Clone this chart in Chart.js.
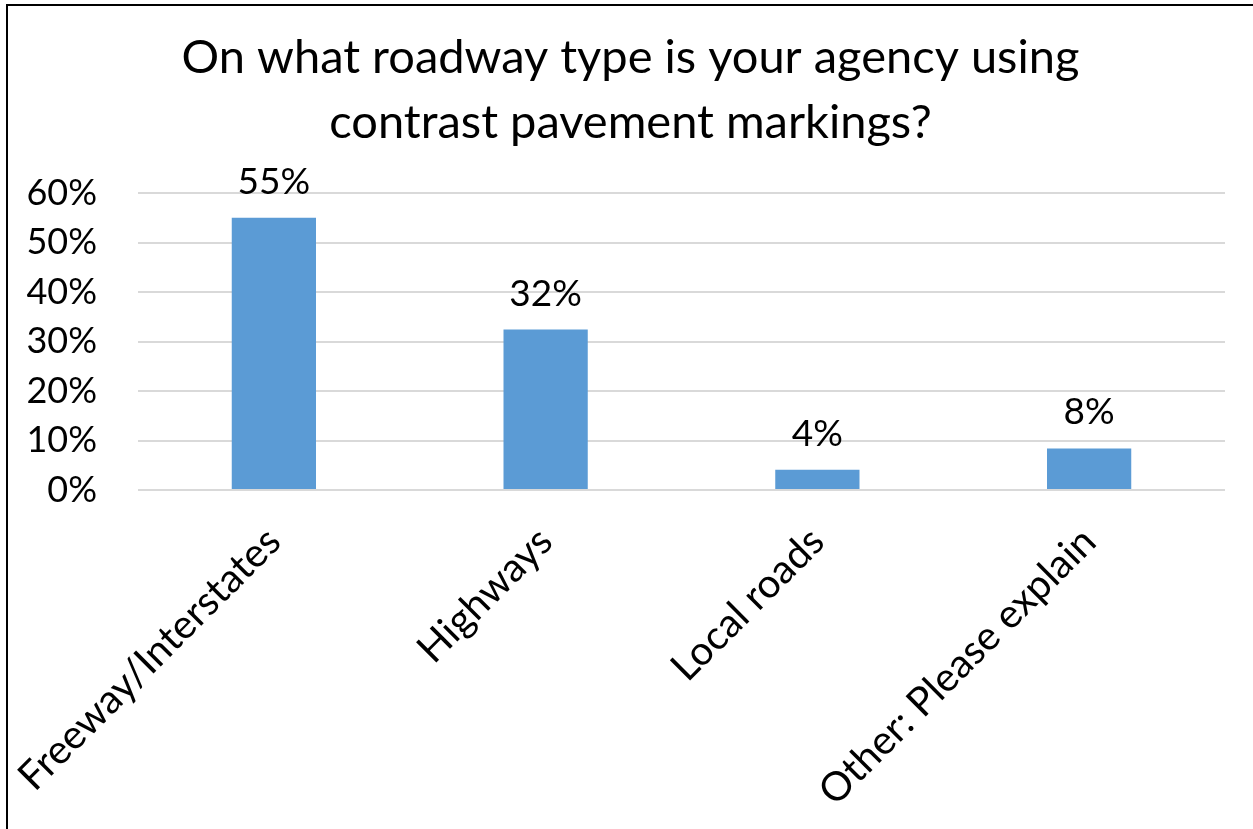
<!DOCTYPE html>
<html>
<head>
<meta charset="utf-8">
<script src="https://cdn.jsdelivr.net/npm/chart.js@4/dist/chart.umd.min.js"></script>
<style>
  html, body { margin: 0; padding: 0; background: #fff; overflow: hidden; }
  #frame { position: absolute; left: 6px; top: 4px; width: 1400px; height: 1000px;
           border-left: 2px solid #000; border-top: 2px solid #000; }
  #box { position: absolute; left: 0; top: 0; width: 1245px; height: 823px; }
</style>
</head>
<body>
<div id="frame"><div id="box"><canvas id="c"></canvas></div></div>
<script>
const titleLines = ["On what roadway type is your agency using", "contrast pavement markings?"];
const categories = ["Freeway/Interstates", "Highways", "Local roads", "Other: Please explain"];
const values = [55, 32.4, 4.1, 8.4];
const yTicks = [0, 10, 20, 30, 40, 50, 60];

const FONT = "Lato";

const dataLabels = {
  id: 'dataLabels',
  afterDatasetsDraw(chart) {
    const ctx = chart.ctx;
    const meta = chart.getDatasetMeta(0);
    ctx.save();
    ctx.font = `37px ${FONT}`;
    ctx.fillStyle = '#000';
    ctx.textAlign = 'center';
    ctx.textBaseline = 'alphabetic';
    meta.data.forEach((bar, i) => {
      ctx.fillText(Math.round(values[i]) + '%', bar.x, bar.y - 24);
    });
    ctx.restore();
  }
};

new Chart(document.getElementById('c'), {
  type: 'bar',
  data: {
    labels: categories,
    datasets: [{
      data: values,
      backgroundColor: '#5b9bd5',
      borderWidth: 0,
      barPercentage: 0.31,
      categoryPercentage: 1
    }]
  },
  options: {
    responsive: true,
    maintainAspectRatio: false,
    animation: false,
    layout: { padding: 0 },
    plugins: {
      legend: { display: false },
      tooltip: { enabled: false },
      title: {
        display: true,
        text: titleLines,
        color: '#000',
        font: { family: FONT, size: 47, weight: 'normal', lineHeight: 65 / 47 },
        padding: { top: 19, bottom: 38 }
      }
    },
    scales: {
      x: {
        grid: { display: false, drawTicks: false },
        border: { display: false },
        ticks: {
          color: '#000',
          font: { family: FONT, size: 40 },
          minRotation: 45, maxRotation: 45,
          autoSkip: false,
          padding: 28
        },
        afterFit(s) { s.height = 339; s.paddingLeft = 0; s.paddingRight = 28; }
      },
      y: {
        min: 0, max: 60,
        afterBuildTicks(s) { s.ticks = yTicks.map(v => ({ value: v })); },
        grid: { color: '#d9d9d9', lineWidth: 2, drawTicks: false },
        border: { display: false },
        ticks: {
          color: '#000',
          font: { family: FONT, size: 36 },
          padding: 41,
          callback: v => v + '%'
        },
        afterFit(s) { s.width = 130; }
      }
    }
  },
  plugins: [dataLabels]
});
</script>
</body>
</html>
